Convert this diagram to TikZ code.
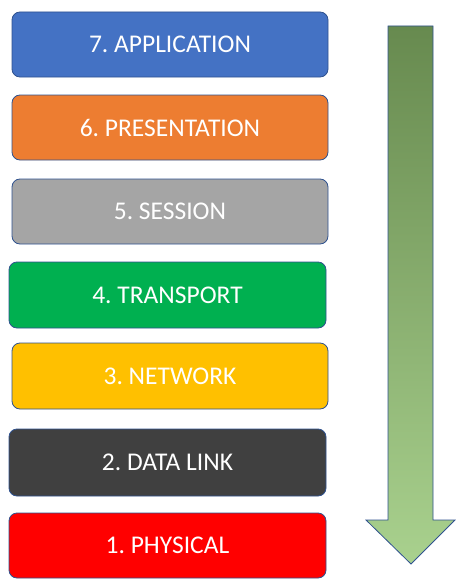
\documentclass[tikz,border=0pt]{standalone}
\usepackage{fontspec}
\setmainfont{Carlito}
\usepackage{xcolor}
\frenchspacing
\definecolor{appblue}{HTML}{4472C4}
\definecolor{presorange}{HTML}{ED7D31}
\definecolor{sessgray}{HTML}{A5A5A5}
\definecolor{transgreen}{HTML}{00B050}
\definecolor{netyellow}{HTML}{FFC000}
\definecolor{linkdark}{HTML}{404040}
\definecolor{physred}{HTML}{FF0000}
\definecolor{edgeblue}{HTML}{2F528F}
\definecolor{arrowtop}{HTML}{678A4F}
\definecolor{arrowbot}{HTML}{A9D18E}
\tikzset{
	layer/.style={
			draw=edgeblue, line width=0.8pt, rounded corners=8pt,
			minimum width=316pt, minimum height=65pt, inner sep=0pt,
			fill=#1, text=white,
			font=\fontsize{25.5}{30}\selectfont
		}
}

\begin{document}
\begin{tikzpicture}[x=1pt, y=-1pt]
	\useasboundingbox (0,0) rectangle (460,586);
	\node[layer=appblue] (app) at (170,44.5) {7. APPLICATION};
	\node[layer=presorange] (pres) at (170,127.5) {6. PRESENTATION};
	\node[layer=sessgray] (sess) at (170,211.5) {5. SESSION};
	\node[layer=transgreen, minimum width=317pt, minimum height=66pt] (trans) at (167.5,295) {4. TRANSPORT};
	\node[layer=netyellow, minimum height=66pt] (net) at (170,376) {3. NETWORK};
	\node[layer=linkdark, minimum width=317pt, minimum height=67pt] (link) at (167.5,462.5) {2. DATA LINK};
	\node[layer=physred, minimum width=317pt] (phys) at (167.5,545.5) {1. PHYSICAL};

	% downward arrow
	\draw[edgeblue, line width=0.8pt, top color=arrowtop, bottom color=arrowbot, line join=miter]
		(388,26) -- (433,26) -- (433,520) -- (455,520) -- (411,564)
		-- (366,520) -- (388,520) -- cycle;
\end{tikzpicture}
\end{document}
